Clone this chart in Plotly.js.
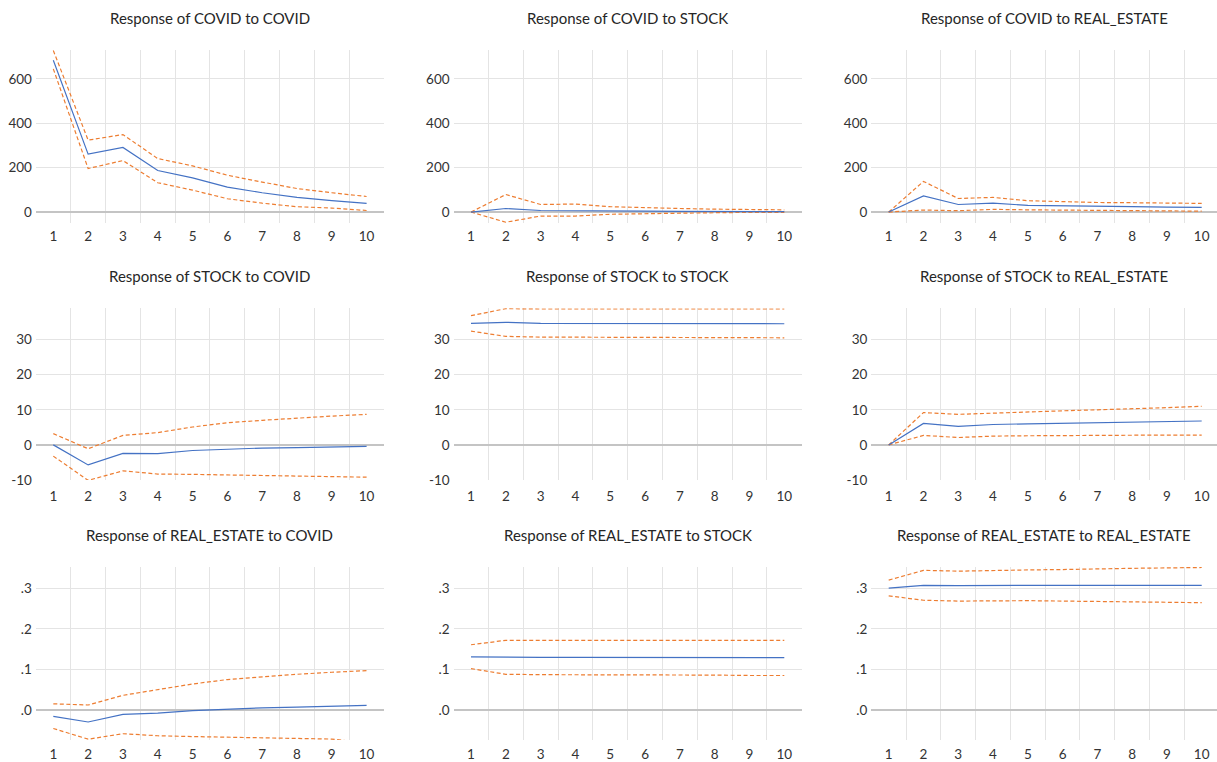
<!DOCTYPE html>
<html>
<head>
<meta charset="utf-8">
<script src="https://cdn.plot.ly/plotly-3.0.1.min.js"></script>
<style>html,body{margin:0;padding:0;background:#fff;}#chart{width:1217px;height:762px;}</style>
</head>
<body>
<div id="chart"></div>
<script>
// ---------- data ----------
const periods = [1, 2, 3, 4, 5, 6, 7, 8, 9, 10];

const titles = [
  "Response of COVID to COVID", "Response of COVID to STOCK", "Response of COVID to REAL_ESTATE",
  "Response of STOCK to COVID", "Response of STOCK to STOCK", "Response of STOCK to REAL_ESTATE",
  "Response of REAL_ESTATE to COVID", "Response of REAL_ESTATE to STOCK", "Response of REAL_ESTATE to REAL_ESTATE"
];

// COVID responses
const covid_covid     = [684, 261, 291, 187, 154, 112, 87, 66, 51, 39];
const covid_covid_hi  = [728, 324, 349, 241, 208, 166, 135, 106, 87, 70];
const covid_covid_lo  = [645, 196, 232, 132, 99, 60, 40, 24, 18, 7];

const covid_stock     = [0, 16, 7, 7, 6, 4, 3, 3, 2, 2];
const covid_stock_hi  = [0, 79, 34, 36, 24, 19, 16, 13, 12, 10];
const covid_stock_lo  = [0, -46, -18, -18, -10, -7, -4, -3, -1.5, -1.5];

const covid_re        = [0, 73, 34, 40, 30, 27, 25, 24, 22, 21];
const covid_re_hi     = [0, 138, 61, 66, 51, 46, 43, 42, 40, 39];
const covid_re_lo     = [0, 9, 6, 12, 10, 9, 7, 6, 6, 4];

// STOCK responses
const stock_covid     = [0, -5.7, -2.4, -2.5, -1.6, -1.2, -0.9, -0.8, -0.6, -0.4];
const stock_covid_hi  = [3.2, -1.1, 2.7, 3.5, 5.1, 6.3, 7.0, 7.7, 8.2, 8.7];
const stock_covid_lo  = [-3.2, -10.1, -7.4, -8.3, -8.4, -8.6, -8.8, -8.9, -9.1, -9.2];

const stock_stock     = [34.6, 34.9, 34.6, 34.6, 34.6, 34.6, 34.6, 34.5, 34.5, 34.5];
const stock_stock_hi  = [36.8, 38.8, 38.7, 38.7, 38.7, 38.7, 38.7, 38.7, 38.7, 38.7];
const stock_stock_lo  = [32.4, 30.9, 30.7, 30.7, 30.7, 30.6, 30.6, 30.6, 30.5, 30.5];

const stock_re        = [0, 6.1, 5.3, 5.8, 6.0, 6.2, 6.4, 6.5, 6.7, 6.8];
const stock_re_hi     = [0, 9.2, 8.7, 9.1, 9.4, 9.7, 10.0, 10.2, 10.6, 11.0];
const stock_re_lo     = [0, 2.7, 2.1, 2.5, 2.6, 2.7, 2.7, 2.7, 2.8, 2.8];

// REAL_ESTATE responses
const re_covid        = [-0.016, -0.030, -0.011, -0.008, -0.002, 0.002, 0.005, 0.007, 0.009, 0.011];
const re_covid_hi     = [0.015, 0.012, 0.036, 0.050, 0.064, 0.075, 0.082, 0.088, 0.093, 0.097];
const re_covid_lo     = [-0.046, -0.0725, -0.059, -0.064, -0.066, -0.068, -0.069, -0.071, -0.0722, -0.082];

const re_stock        = [0.131, 0.130, 0.130, 0.130, 0.130, 0.130, 0.130, 0.129, 0.129, 0.129];
const re_stock_hi     = [0.161, 0.172, 0.172, 0.172, 0.172, 0.172, 0.172, 0.172, 0.172, 0.172];
const re_stock_lo     = [0.102, 0.088, 0.087, 0.087, 0.087, 0.086, 0.086, 0.086, 0.085, 0.085];

const re_re           = [0.301, 0.308, 0.307, 0.308, 0.308, 0.308, 0.308, 0.308, 0.308, 0.308];
const re_re_hi        = [0.321, 0.345, 0.343, 0.345, 0.346, 0.347, 0.349, 0.350, 0.351, 0.352];
const re_re_lo        = [0.282, 0.271, 0.269, 0.270, 0.270, 0.269, 0.268, 0.267, 0.266, 0.265];

// tick labels
const row1Ticks = [0, 200, 400, 600];
const row1Text  = ["0", "200", "400", "600"];
const row2Ticks = [-10, 0, 10, 20, 30];
const row2Text  = ["-10", "0", "10", "20", "30"];
const row3Ticks = [0, 0.1, 0.2, 0.3];
const row3Text  = [".0", ".1", ".2", ".3"];

// ---------- build ----------
const panels = [
  [covid_covid, covid_covid_hi, covid_covid_lo],
  [covid_stock, covid_stock_hi, covid_stock_lo],
  [covid_re, covid_re_hi, covid_re_lo],
  [stock_covid, stock_covid_hi, stock_covid_lo],
  [stock_stock, stock_stock_hi, stock_stock_lo],
  [stock_re, stock_re_hi, stock_re_lo],
  [re_covid, re_covid_hi, re_covid_lo],
  [re_stock, re_stock_hi, re_stock_lo],
  [re_re, re_re_hi, re_re_lo]
];

const W = 1217, H = 762;
// plot areas in pixels
const cols = [[35.9, 384.0, 10.5], [453.6, 801.7, 10.5], [871.3, 1217, 10.44]];
const rows = [
  {top: 50, bottom: 222.7, range: [-48, 730], tv: row1Ticks, tt: row1Text, titleY: 18, lab: 4},
  {top: 308.3, bottom: 480, range: [-10, 38.9], tv: row2Ticks, tt: row2Text, titleY: 276, lab: 6},
  {top: 566.7, bottom: 740, range: [-0.0745, 0.354], tv: row3Ticks, tt: row3Text, titleY: 535, lab: 4}
];

const BLUE = "#4472C4", ORANGE = "#ED7D31";
const FONT = "Lato, 'Open Sans', sans-serif";
const traces = [];
const layout = {
  width: W, height: H,
  margin: {l: 0, r: 0, t: 0, b: 0},
  paper_bgcolor: "#ffffff", plot_bgcolor: "#ffffff",
  showlegend: false,
  font: {family: FONT, size: 13, color: "#404040"},
  annotations: []
};
const gridVals = [1.5, 2.5, 3.5, 4.5, 5.5, 6.5, 7.5, 8.5, 9.5];

panels.forEach((p, i) => {
  const r = rows[Math.floor(i / 3)], c = cols[i % 3];
  const n = i + 1;
  const xa = n === 1 ? "x" : "x" + n, ya = n === 1 ? "y" : "y" + n;
  const xk = n === 1 ? "xaxis" : "xaxis" + n, yk = n === 1 ? "yaxis" : "yaxis" + n;
  const dashLine = {color: ORANGE, width: 1.2, dash: "4px,2.5px"};
  traces.push({x: periods, y: p[1], xaxis: xa, yaxis: ya, type: "scatter", mode: "lines", line: dashLine, hoverinfo: "skip"});
  traces.push({x: periods, y: p[2], xaxis: xa, yaxis: ya, type: "scatter", mode: "lines", line: dashLine, hoverinfo: "skip"});
  traces.push({x: periods, y: p[0], xaxis: xa, yaxis: ya, type: "scatter", mode: "lines", line: {color: BLUE, width: 1.2}, hoverinfo: "skip"});
  layout[xk] = {
    domain: [c[0] / W, c[1] / W], anchor: ya, range: [0.5, c[2]],
    tickmode: "array", tickvals: periods, ticktext: periods.map(String),
    showgrid: false, zeroline: false, showline: false, ticks: "",
    ticklabelstandoff: r.lab,
    tickfont: {family: FONT, size: 13.5, color: "#333333"},
    minor: {tickmode: "array", tickvals: gridVals, showgrid: true, gridcolor: "#e4e4e4", gridwidth: 1, ticks: ""},
    fixedrange: true
  };
  layout[yk] = {
    domain: [1 - r.bottom / H, 1 - r.top / H], anchor: xa, range: r.range,
    tickmode: "array", tickvals: r.tv, ticktext: r.tt,
    showgrid: true, gridcolor: "#e4e4e4", gridwidth: 1,
    zeroline: true, zerolinecolor: "#c4c4c4", zerolinewidth: 1.6,
    showline: false, ticks: "", ticklabelstandoff: 3,
    tickfont: {family: FONT, size: 13.5, color: "#333333"},
    fixedrange: true
  };
  layout.annotations.push({
    text: titles[i], xref: "paper", yref: "paper",
    x: ((c[0] + Math.min(c[1], c[0] + 348)) / 2) / W, y: 1 - r.titleY / H,
    xanchor: "center", yanchor: "middle", showarrow: false,
    font: {family: FONT, size: 15, color: "#262626"}
  });
});

Plotly.newPlot("chart", traces, layout, {staticPlot: true, displayModeBar: false});
</script>
</body>
</html>
